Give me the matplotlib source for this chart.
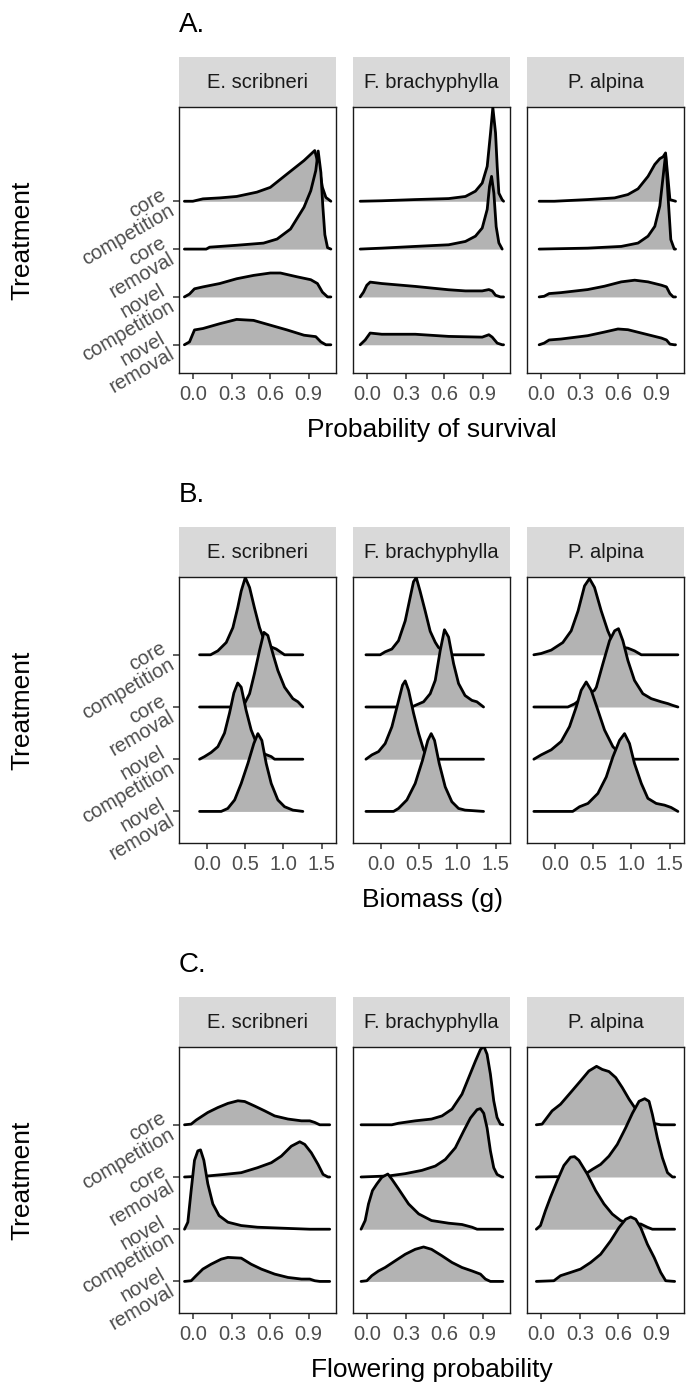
import matplotlib
matplotlib.use("Agg")
import matplotlib.pyplot as plt
from matplotlib.ticker import FormatStrFormatter

plt.rcParams["font.family"] = ["Liberation Sans", "DejaVu Sans"]

# ridge order inside every facet: core competition, core removal, novel competition, novel removal
# each ridge is a list of (x, height), height in units of the ridge spacing
treatments = ["core\ncompetition", "core\nremoval", "novel\ncompetition", "novel\nremoval"]
species = ["E. scribneri", "F. brachyphylla", "P. alpina"]

# A. probability of survival
surv_escr = [
    [(-0.071, 0), (-0.005, 0), (0.074, 0.05), (0.205, 0.07), (0.337, 0.10), (0.495, 0.19), (0.60, 0.29),
     (0.731, 0.57), (0.863, 0.85), (0.947, 1.06), (0.981, 0.71), (1.007, 0.29), (1.034, 0.08), (1.073, 0)],
    [(-0.071, 0), (0.10, 0), (0.126, 0.04), (0.337, 0.08), (0.547, 0.125), (0.653, 0.21), (0.758, 0.42),
     (0.863, 0.875), (0.916, 1.22), (0.955, 1.64), (0.974, 2.05), (0.995, 1.6), (1.01, 0.9), (1.026, 0.3),
     (1.047, 0.03), (1.073, 0)],
    [(-0.071, 0), (-0.031, 0.06), (0.008, 0.17), (0.074, 0.21), (0.205, 0.28), (0.337, 0.38), (0.469, 0.45),
     (0.60, 0.50), (0.679, 0.50), (0.81, 0.42), (0.916, 0.36), (0.968, 0.28), (1.007, 0.10), (1.047, 0), (1.073, 0)],
    [(-0.071, 0), (-0.031, 0.06), (0.008, 0.31), (0.074, 0.34), (0.205, 0.44), (0.337, 0.53), (0.469, 0.51),
     (0.60, 0.41), (0.731, 0.31), (0.863, 0.20), (0.955, 0.17), (0.995, 0.06), (1.034, 0), (1.073, 0)],
]
surv_fbra = [
    [(-0.057, 0), (0.112, 0.01), (0.373, 0.035), (0.634, 0.056), (0.765, 0.10), (0.843, 0.21), (0.896, 0.38),
     (0.935, 0.73), (0.961, 1.43), (0.979, 1.96), (1.0, 1.43), (1.013, 0.73), (1.026, 0.17), (1.052, 0.03), (1.063, 0)],
    [(-0.057, 0), (0.112, 0.02), (0.373, 0.056), (0.634, 0.09), (0.765, 0.16), (0.843, 0.27), (0.896, 0.44),
     (0.935, 0.83), (0.953, 1.31), (0.969, 1.52), (0.987, 1.17), (1.005, 0.47), (1.026, 0.13), (1.052, 0)],
    [(-0.057, 0), (-0.031, 0.10), (-0.005, 0.245), (0.021, 0.31), (0.112, 0.28), (0.373, 0.22), (0.634, 0.15),
     (0.765, 0.126), (0.896, 0.126), (0.948, 0.154), (0.974, 0.126), (1.0, 0.035), (1.039, 0), (1.063, 0)],
    [(-0.057, 0), (-0.018, 0.10), (0.021, 0.245), (0.112, 0.22), (0.373, 0.22), (0.634, 0.175), (0.896, 0.16),
     (0.948, 0.21), (0.974, 0.16), (1.013, 0.035), (1.052, 0), (1.063, 0)],
]
surv_palp = [
    [(-0.018, 0), (0.10, 0), (0.361, 0.035), (0.571, 0.07), (0.675, 0.14), (0.754, 0.26), (0.832, 0.52),
     (0.885, 0.77), (0.924, 0.89), (0.95, 0.93), (0.969, 1.01), (0.984, 0.59), (1.003, 0.035), (1.047, 0)],
    [(-0.018, 0), (0.361, 0.02), (0.623, 0.056), (0.754, 0.126), (0.832, 0.27), (0.885, 0.475), (0.924, 0.9),
     (0.95, 1.52), (0.969, 1.98), (0.99, 1.03), (1.01, 0.2), (1.037, 0), (1.047, 0)],
    [(-0.018, 0), (0.021, 0.014), (0.06, 0.07), (0.152, 0.09), (0.361, 0.154), (0.492, 0.224), (0.623, 0.315),
     (0.728, 0.35), (0.832, 0.315), (0.937, 0.245), (0.976, 0.21), (1.003, 0.07), (1.029, 0), (1.047, 0)],
    [(-0.018, 0), (0.021, 0.035), (0.06, 0.10), (0.152, 0.12), (0.361, 0.19), (0.492, 0.266), (0.597, 0.33),
     (0.675, 0.315), (0.832, 0.21), (0.937, 0.14), (0.976, 0.10), (1.003, 0.014), (1.037, 0), (1.047, 0)],
]

# B. biomass (g)
bio_escr = [
    [(-0.1, 0), (0.044, 0), (0.14, 0.076), (0.25, 0.236), (0.337, 0.52), (0.40, 0.9), (0.446, 1.22), (0.5, 1.48),
     (0.556, 1.29), (0.62, 0.9), (0.687, 0.52), (0.75, 0.27), (0.84, 0.15), (0.906, 0.11), (0.97, 0.045),
     (1.015, 0), (1.255, 0)],
    [(-0.1, 0), (0.40, 0), (0.49, 0.064), (0.556, 0.255), (0.62, 0.64), (0.687, 1.085), (0.744, 1.43),
     (0.796, 1.37), (0.862, 1.02), (0.927, 0.7), (1.015, 0.38), (1.124, 0.16), (1.19, 0.1), (1.255, 0)],
    [(-0.1, 0), (-0.035, 0.05), (0.052, 0.13), (0.14, 0.24), (0.227, 0.5), (0.293, 0.885), (0.35, 1.27),
     (0.4, 1.46), (0.446, 1.38), (0.51, 0.94), (0.577, 0.56), (0.665, 0.24), (0.752, 0.1), (0.84, 0.05),
     (0.884, 0), (1.255, 0)],
    [(-0.1, 0), (0.184, 0), (0.27, 0.057), (0.36, 0.22), (0.446, 0.535), (0.534, 0.92), (0.612, 1.3),
     (0.665, 1.49), (0.717, 1.36), (0.774, 0.92), (0.84, 0.535), (0.927, 0.22), (1.015, 0.09), (1.124, 0.025),
     (1.255, 0)],
]
bio_fbra = [
    [(-0.2, 0), (-0.013, 0), (0.052, 0.057), (0.14, 0.11), (0.227, 0.27), (0.315, 0.65), (0.38, 1.1),
     (0.424, 1.4), (0.46, 1.48), (0.51, 1.22), (0.577, 0.84), (0.643, 0.45), (0.709, 0.24), (0.752, 0.14),
     (0.84, 0.045), (0.927, 0), (1.343, 0)],
    [(-0.2, 0), (0.40, 0), (0.446, 0.03), (0.556, 0.1), (0.643, 0.255), (0.709, 0.51), (0.774, 1.08),
     (0.83, 1.48), (0.884, 1.34), (0.95, 0.83), (1.015, 0.45), (1.1, 0.22), (1.19, 0.127), (1.255, 0.1),
     (1.343, 0)],
    [(-0.2, 0), (-0.122, 0.083), (-0.035, 0.146), (0.052, 0.3), (0.14, 0.62), (0.219, 1.07), (0.28, 1.42),
     (0.315, 1.5), (0.359, 1.32), (0.424, 0.885), (0.49, 0.5), (0.556, 0.18), (0.62, 0.02), (0.709, 0),
     (1.343, 0)],
    [(-0.2, 0), (0.162, 0), (0.227, 0.057), (0.337, 0.22), (0.446, 0.535), (0.542, 0.98), (0.612, 1.36),
     (0.656, 1.49), (0.70, 1.36), (0.761, 0.92), (0.84, 0.47), (0.927, 0.185), (1.015, 0.057), (1.1, 0.025),
     (1.343, 0)],
]
bio_palp = [
    [(-0.28, 0), (-0.184, 0.025), (-0.052, 0.09), (0.1, 0.235), (0.21, 0.46), (0.3, 0.84), (0.385, 1.32),
     (0.45, 1.46), (0.516, 1.29), (0.604, 0.84), (0.69, 0.46), (0.757, 0.235), (0.866, 0.15), (0.954, 0.127),
     (1.04, 0.076), (1.13, 0), (1.61, 0)],
    [(-0.28, 0), (0.166, 0), (0.254, 0.06), (0.385, 0.2), (0.516, 0.32), (0.54, 0.38), (0.626, 0.83),
     (0.713, 1.27), (0.78, 1.46), (0.83, 1.5), (0.888, 1.27), (0.954, 0.89), (1.04, 0.51), (1.15, 0.255),
     (1.26, 0.16), (1.39, 0.1), (1.48, 0.064), (1.544, 0.03), (1.61, 0)],
    [(-0.28, 0), (-0.184, 0.083), (-0.052, 0.18), (0.079, 0.34), (0.188, 0.625), (0.276, 1.0), (0.341, 1.32),
     (0.407, 1.48), (0.472, 1.32), (0.56, 0.94), (0.647, 0.56), (0.757, 0.24), (0.866, 0.083), (0.997, 0),
     (1.61, 0)],
    [(-0.28, 0), (0.23, 0), (0.32, 0.09), (0.43, 0.153), (0.56, 0.344), (0.67, 0.66), (0.757, 1.045),
     (0.844, 1.36), (0.91, 1.49), (0.975, 1.3), (1.04, 0.92), (1.13, 0.535), (1.216, 0.25), (1.325, 0.153),
     (1.435, 0.12), (1.52, 0.076), (1.61, 0)],
]

# C. flowering probability
flow_escr = [
    [(-0.07, 0), (-0.018, 0.013), (0.021, 0.09), (0.06, 0.153), (0.112, 0.236), (0.19, 0.33), (0.269, 0.41),
     (0.347, 0.46), (0.4, 0.446), (0.477, 0.36), (0.556, 0.267), (0.634, 0.17), (0.738, 0.11), (0.843, 0.076),
     (0.908, 0.076), (0.947, 0.045), (0.986, 0), (1.064, 0)],
    [(-0.07, 0), (0.112, 0.02), (0.243, 0.05), (0.373, 0.083), (0.5, 0.178), (0.608, 0.274), (0.686, 0.4),
     (0.764, 0.59), (0.83, 0.675), (0.869, 0.624), (0.92, 0.465), (0.973, 0.24), (1.012, 0.05), (1.05, 0),
     (1.064, 0)],
    [(-0.07, 0), (-0.044, 0.134), (-0.018, 0.745), (0.008, 1.32), (0.034, 1.5), (0.055, 1.52), (0.081, 1.32),
     (0.112, 0.87), (0.151, 0.485), (0.2, 0.26), (0.269, 0.134), (0.373, 0.07), (0.5, 0.038), (0.764, 0.013),
     (0.908, 0), (1.064, 0)],
    [(-0.07, 0), (-0.018, 0.013), (0.021, 0.11), (0.073, 0.236), (0.138, 0.33), (0.217, 0.427), (0.269, 0.46),
     (0.373, 0.446), (0.45, 0.33), (0.53, 0.236), (0.634, 0.14), (0.738, 0.076), (0.843, 0.045), (0.908, 0.045),
     (0.947, 0.013), (0.986, 0), (1.064, 0)],
]
flow_fbra = [
    [(-0.05, 0), (0.19, 0), (0.243, 0.03), (0.373, 0.076), (0.5, 0.11), (0.582, 0.17), (0.66, 0.3),
     (0.738, 0.586), (0.79, 0.9), (0.843, 1.22), (0.882, 1.44), (0.908, 1.51), (0.934, 1.35), (0.96, 0.97),
     (0.986, 0.46), (1.012, 0.14), (1.038, 0.013), (1.057, 0)],
    [(-0.05, 0), (0.164, 0.02), (0.295, 0.064), (0.425, 0.127), (0.53, 0.21), (0.608, 0.336), (0.686, 0.56),
     (0.751, 0.88), (0.804, 1.13), (0.856, 1.29), (0.882, 1.31), (0.908, 1.22), (0.934, 0.94), (0.96, 0.5),
     (0.986, 0.178), (1.012, 0.05), (1.05, 0), (1.057, 0)],
    [(-0.05, 0), (-0.018, 0.166), (0.008, 0.484), (0.039, 0.74), (0.073, 0.866), (0.112, 0.994), (0.159, 1.057),
     (0.19, 0.96), (0.243, 0.77), (0.321, 0.484), (0.4, 0.293), (0.5, 0.166), (0.634, 0.115), (0.738, 0.09),
     (0.817, 0.038), (0.856, 0), (1.057, 0)],
    [(-0.05, 0), (-0.005, 0.013), (0.034, 0.11), (0.086, 0.2), (0.138, 0.267), (0.217, 0.395), (0.295, 0.52),
     (0.373, 0.615), (0.438, 0.66), (0.5, 0.615), (0.582, 0.49), (0.66, 0.363), (0.738, 0.267), (0.817, 0.2),
     (0.882, 0.14), (0.921, 0.045), (0.96, 0), (1.057, 0)],
]
flow_palp = [
    [(-0.04, 0), (0.005, 0.013), (0.044, 0.14), (0.083, 0.267), (0.149, 0.394), (0.227, 0.616), (0.305, 0.84),
     (0.37, 1.03), (0.43, 1.12), (0.475, 1.06), (0.527, 1.02), (0.58, 0.904), (0.631, 0.713), (0.684, 0.49),
     (0.736, 0.3), (0.775, 0.17), (0.827, 0.076), (0.88, 0.025), (0.931, 0), (1.04, 0)],
    [(-0.04, 0), (0.227, 0.01), (0.331, 0.038), (0.397, 0.146), (0.462, 0.242), (0.527, 0.4), (0.592, 0.624),
     (0.657, 0.94), (0.71, 1.22), (0.762, 1.45), (0.806, 1.5), (0.84, 1.45), (0.866, 1.2), (0.905, 0.75),
     (0.944, 0.37), (0.984, 0.083), (1.023, 0), (1.04, 0)],
    [(-0.04, 0), (-0.008, 0.07), (0.031, 0.355), (0.07, 0.61), (0.123, 0.93), (0.175, 1.22), (0.227, 1.38),
     (0.258, 1.39), (0.292, 1.32), (0.357, 1.06), (0.423, 0.74), (0.488, 0.484), (0.553, 0.29), (0.618, 0.166),
     (0.697, 0.09), (0.775, 0.1), (0.827, 0.038), (0.866, 0), (1.04, 0)],
    [(-0.04, 0), (0.097, 0.013), (0.149, 0.11), (0.227, 0.172), (0.305, 0.236), (0.384, 0.363), (0.462, 0.52),
     (0.54, 0.777), (0.605, 1.03), (0.657, 1.19), (0.697, 1.235), (0.736, 1.19), (0.775, 1.03), (0.827, 0.713),
     (0.88, 0.458), (0.931, 0.172), (0.97, 0.013), (1.04, 0)],
]

prob_ticks = [0.0, 0.3, 0.6, 0.9]
bio_ticks = [0.0, 0.5, 1.0, 1.5]

panels = [
    ("A.", "Probability of survival", [surv_escr, surv_fbra, surv_palp], (-0.113, 1.113), prob_ticks, (0.41, 5.97), 57),
    ("B.", "Biomass (g)", [bio_escr, bio_fbra, bio_palp], (-0.37, 1.69), bio_ticks, (0.395, 5.49), 527),
    ("C.", "Flowering probability", [flow_escr, flow_fbra, flow_palp], (-0.113, 1.113), prob_ticks, (0.395, 5.49), 997),
]

W, H = 686, 1386
FILL = "#B3B3B3"
fig = plt.figure(figsize=(W / 100, H / 100), dpi=100)


def box(x0, y0, w, h):
    # pixel box measured from the top-left corner -> figure fraction
    return [x0 / W, 1 - (y0 + h) / H, w / W, h / H]


facet_x = [179, 353, 527]
facet_w = 157
strip_h = 50
panel_h = 266

for tag, xlabel, facets, xlim, xticks, ylim, top in panels:
    fig.text(179 / W, 1 - (top - 32) / H, tag, fontsize=20, ha="left", va="center")
    for j, curves in enumerate(facets):
        sax = fig.add_axes(box(facet_x[j], top, facet_w, strip_h))
        sax.set_facecolor("#D9D9D9")
        sax.set_xticks([])
        sax.set_yticks([])
        for s in sax.spines.values():
            s.set_visible(False)
        sax.text(0.5, 0.5, species[j], transform=sax.transAxes, ha="center", va="center",
                 fontsize=14.5, color="#1A1A1A")

        ax = fig.add_axes(box(facet_x[j], top + strip_h, facet_w, panel_h))
        for k, pts in enumerate(curves):
            base = 4 - k
            xs = [p[0] for p in pts]
            ys = [base + p[1] for p in pts]
            ax.fill_between(xs, base, ys, color=FILL, lw=0, zorder=2 + 2 * k)
            ax.plot(xs, ys, color="black", lw=2.0, zorder=3 + 2 * k,
                    solid_joinstyle="round", solid_capstyle="round")
        ax.set_xlim(*xlim)
        ax.set_ylim(*ylim)
        ax.set_xticks(xticks)
        ax.xaxis.set_major_formatter(FormatStrFormatter("%.1f"))
        ax.tick_params(axis="x", direction="out", length=4.5, width=1.1, color="#333333",
                       labelsize=14.5, labelcolor="#4D4D4D", pad=4)
        for s in ax.spines.values():
            s.set_color("#1A1A1A")
            s.set_linewidth(1.0)
        if j == 0:
            ax.set_yticks([4, 3, 2, 1])
            ax.set_yticklabels(treatments, rotation=30, ha="right", va="center",
                               rotation_mode="anchor", multialignment="right", linespacing=0.95)
            ax.tick_params(axis="y", direction="out", length=4.5, width=1.1, color="#333333",
                           labelsize=14.5, labelcolor="#4D4D4D", pad=3)
        else:
            ax.set_yticks([])

    bottom = top + strip_h + panel_h
    fig.text(432 / W, 1 - (bottom + 57) / H, xlabel, fontsize=19, ha="center", va="center")
    fig.text(22 / W, 1 - (top + 183) / H, "Treatment", fontsize=19, ha="center", va="center", rotation=90)

fig.savefig("out.png", dpi=100)
